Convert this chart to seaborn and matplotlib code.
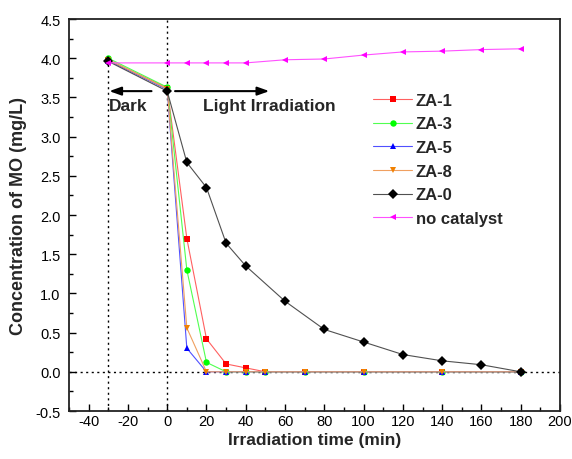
import numpy as np
import pandas as pd
import seaborn as sns
import matplotlib
matplotlib.use("Agg")
import matplotlib.pyplot as plt
from matplotlib.ticker import MultipleLocator

# ---------------- data ----------------
t_short = [-30, 0, 10, 20, 30, 40, 50, 70, 100, 140, 180]
t_long = [-30, 0, 10, 20, 30, 40, 60, 80, 100, 120, 140, 160, 180]

za1 = [3.98, 3.62, 1.70, 0.42, 0.10, 0.05, 0.0, 0.0, 0.0, 0.0, 0.0]
za3 = [4.00, 3.63, 1.30, 0.12, 0.0, 0.0, 0.0, 0.0, 0.0, 0.0, 0.0]
za5 = [3.97, 3.60, 0.30, 0.0, 0.0, 0.0, 0.0, 0.0, 0.0, 0.0, 0.0]
za8 = [3.98, 3.61, 0.56, 0.0, 0.0, 0.0, 0.0, 0.0, 0.0, 0.0, 0.0]
za0 = [3.96, 3.58, 2.67, 2.35, 1.64, 1.35, 0.90, 0.54, 0.38, 0.22, 0.14, 0.09, 0.0]
no_cat = [3.94, 3.94, 3.94, 3.94, 3.94, 3.94, 3.98, 3.99, 4.04, 4.08, 4.09, 4.11, 4.12]

series_names = ["ZA-1", "ZA-3", "ZA-5", "ZA-8", "ZA-0", "no catalyst"]
series_times = [t_short, t_short, t_short, t_short, t_long, t_long]
series_vals = [za1, za3, za5, za8, za0, no_cat]

colors = {"ZA-1": "#FF0000", "ZA-3": "#00FF00", "ZA-5": "#0000FF",
          "ZA-8": "#F08000", "ZA-0": "#000000", "no catalyst": "#FF00FF"}
line_colors = {"ZA-1": "#FF6060", "ZA-3": "#50FF50", "ZA-5": "#5050FF",
               "ZA-8": "#F0A060", "ZA-0": "#505050", "no catalyst": "#FF50FF"}
markers = {"ZA-1": "s", "ZA-3": "o", "ZA-5": "^",
           "ZA-8": "v", "ZA-0": "D", "no catalyst": "<"}

rows = []
for name, ts, vs in zip(series_names, series_times, series_vals):
    for t, v in zip(ts, vs):
        rows.append({"time": t, "conc": v, "sample": name})
df = pd.DataFrame(rows)

# ---------------- style ----------------
sns.set_style("ticks")
plt.rcParams["font.family"] = ["Liberation Sans", "DejaVu Sans"]
plt.rcParams["axes.unicode_minus"] = False

fig = plt.figure(figsize=(5.72, 4.60), dpi=100)
ax = fig.add_axes([69 / 572, 1 - 412 / 460, (560 - 69) / 572, (412 - 20) / 460])

sns.lineplot(data=df, x="time", y="conc", hue="sample", style="sample",
             hue_order=series_names, style_order=series_names,
             palette=colors, markers=markers, dashes=False, sort=False,
             errorbar=None, linewidth=0.8, markersize=4.6,
             markeredgewidth=0, ax=ax)

# lighter connecting lines, saturated markers (as in the reference)
for line in ax.get_lines():
    lab = line.get_label()
    if lab in line_colors:
        line.set_markerfacecolor(colors[lab])
        line.set_color(line_colors[lab])
for line, name in zip(ax.get_lines()[:len(series_names)], series_names):
    line.set_markerfacecolor(colors[name])
    line.set_color(line_colors[name])

# reference dotted lines
ax.axhline(0, color="k", ls=(0, (1.5, 2.5)), lw=1.0, zorder=0)
ax.axvline(0, color="k", ls=(0, (1.5, 2.5)), lw=1.0, zorder=0)
ax.plot([-30, -30], [-0.5, 3.97], color="k", ls=(0, (1.5, 2.5)), lw=1.0, zorder=0)

# arrows and annotations
ax.annotate("", xy=(-29.5, 3.58), xytext=(-8, 3.58),
            arrowprops=dict(arrowstyle="-|>,head_length=0.7,head_width=0.25",
                            color="k", lw=1.5, shrinkA=0, shrinkB=0))
ax.annotate("", xy=(52, 3.58), xytext=(4, 3.58),
            arrowprops=dict(arrowstyle="-|>,head_length=0.7,head_width=0.25",
                            color="k", lw=1.5, shrinkA=0, shrinkB=0))
ax.text(-29.5, 3.40, "Dark", fontsize=12.5, fontweight="bold",
        ha="left", va="center")
ax.text(18, 3.40, "Light Irradiation", fontsize=12.5, fontweight="bold",
        ha="left", va="center")

# axes
ax.set_xlim(-50, 200)
ax.set_ylim(-0.5, 4.5)
ax.xaxis.set_minor_locator(MultipleLocator(10))
ax.yaxis.set_minor_locator(MultipleLocator(0.25))
ax.set_xticks(np.arange(-40, 201, 20))
ax.set_yticks(np.arange(-0.5, 4.51, 0.5))
ax.set_yticklabels([f"{v:.1f}" for v in np.arange(-0.5, 4.51, 0.5)])
ax.tick_params(which="both", direction="in", top=False, right=False, colors="k")
ax.tick_params(which="major", length=5, width=1.0, labelsize=10.5)
ax.tick_params(which="minor", length=3, width=1.0)
ax.tick_params(axis="x", which="major", pad=2)
ax.tick_params(axis="y", which="major", pad=6)
for sp in ax.spines.values():
    sp.set_visible(True)
    sp.set_linewidth(1.3)
    sp.set_color("#222222")

ax.set_xlabel("Irradiation time (min)", fontsize=12.5, fontweight="bold",
              labelpad=3)
ax.set_ylabel("Concentration of MO (mg/L)", fontsize=13, fontweight="bold",
              labelpad=6)

# legend
handles, labels = ax.get_legend_handles_labels()
pairs = [(h, l) for h, l in zip(handles, labels) if l in series_names]
for h, l in pairs:
    h.set_color(line_colors[l])
    h.set_markerfacecolor(colors[l])
    h.set_markeredgewidth(0)
leg = ax.legend([p[0] for p in pairs], [p[1] for p in pairs],
                loc="upper left", bbox_to_anchor=(0.603, 0.833),
                frameon=False, borderpad=0, labelspacing=0.52,
                handlelength=2.3, handletextpad=0.25, numpoints=1,
                prop={"weight": "bold", "size": 12})

fig.savefig("out.png", dpi=100)
